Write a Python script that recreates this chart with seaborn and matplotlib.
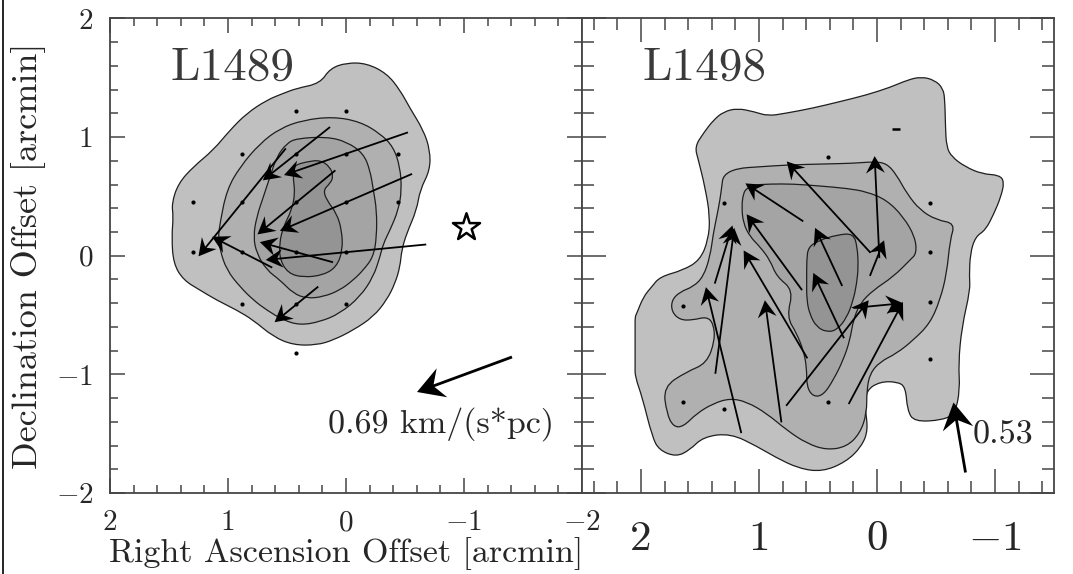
import numpy as np
import matplotlib
matplotlib.use("Agg")
import matplotlib.pyplot as plt
from matplotlib.path import Path
from matplotlib.patches import PathPatch
from matplotlib.ticker import FixedLocator, MultipleLocator, FixedFormatter
from matplotlib.lines import Line2D
import seaborn as sns

# ---------------- L1489 ----------------
l1489_dot_x = [0.42, 0.0, 0.88, 0.42, 0.0, -0.44, 1.30, 0.88, 0.42, 0.0, -0.44,
               1.30, 0.88, 0.42, 0.0, 0.88, 0.42, 0.0, 0.42]
l1489_dot_y = [1.22, 1.22, 0.86, 0.86, 0.86, 0.86, 0.45, 0.45, 0.45, 0.45, 0.45,
               0.03, 0.03, 0.03, 0.03, -0.41, -0.41, -0.41, -0.82]

l1489_arrow_x = [0.0, 0.42, 0.88, 0.0, 0.42, 0.0, 0.42, 0.88, 0.42]
l1489_arrow_y = [0.86, 0.86, 0.45, 0.45, 0.45, 0.03, 0.03, 0.03, -0.41]
l1489_arrow_u = [1.05, 0.57, 0.74, 1.12, 0.66, 1.36, 0.62, 0.51, 0.37]
l1489_arrow_v = [-0.36, -0.45, -0.91, -0.48, -0.54, -0.13, 0.17, 0.26, -0.30]

l1489_star = (-1.02, 0.245)
l1489_key = dict(x=-1.0, y=-1.0, u=0.805, v=-0.295, label="0.69 km/(s*pc)")

l1489_level1 = [(0.418, 1.411), (0.220, 1.453), (0.135, 1.579), (-0.006, 1.627),
                (-0.175, 1.622), (-0.345, 1.537), (-0.458, 1.397), (-0.543, 1.242),
                (-0.656, 1.059), (-0.712, 0.891), (-0.712, 0.722), (-0.627, 0.554),
                (-0.599, 0.385), (-0.514, 0.188), (-0.472, 0.048), (-0.458, -0.093),
                (-0.416, -0.233), (-0.345, -0.374), (-0.232, -0.514), (-0.062, -0.627),
                (0.107, -0.711), (0.248, -0.753), (0.446, -0.753), (0.616, -0.683),
                (0.785, -0.543), (0.926, -0.458), (1.096, -0.374), (1.237, -0.290),
                (1.378, -0.205), (1.463, -0.065), (1.477, 0.160), (1.463, 0.329),
                (1.477, 0.441), (1.421, 0.610), (1.294, 0.750), (1.124, 0.891),
                (0.983, 1.059), (0.842, 1.200), (0.672, 1.312), (0.531, 1.369)]
l1489_level2 = [(1.068, 0.273), (1.011, 0.554), (0.898, 0.750), (0.729, 0.947),
                (0.559, 1.074), (0.361, 1.144), (0.107, 1.172), (-0.119, 1.130),
                (-0.288, 1.031), (-0.401, 0.919), (-0.458, 0.750), (-0.472, 0.554),
                (-0.444, 0.385), (-0.373, 0.216), (-0.317, 0.104), (-0.288, -0.009),
                (-0.232, -0.177), (-0.119, -0.346), (0.051, -0.486), (0.220, -0.557),
                (0.390, -0.585), (0.531, -0.543), (0.672, -0.458), (0.785, -0.374),
                (0.898, -0.262), (1.011, -0.121), (1.068, 0.048), (1.082, 0.160)]
l1489_level3 = [(0.418, 0.989), (0.164, 1.003), (-0.006, 0.961), (-0.147, 0.863),
                (-0.204, 0.722), (-0.232, 0.554), (-0.260, 0.385), (-0.260, 0.160),
                (-0.232, -0.009), (-0.147, -0.121), (-0.062, -0.205), (0.051, -0.290),
                (0.192, -0.346), (0.333, -0.360), (0.446, -0.318), (0.559, -0.205),
                (0.672, -0.121), (0.757, 0.020), (0.785, 0.160), (0.757, 0.329),
                (0.700, 0.497), (0.644, 0.666), (0.587, 0.835), (0.503, 0.947)]
l1489_level4 = [(0.432, 0.764), (0.333, 0.792), (0.220, 0.807), (0.135, 0.750),
                (0.107, 0.666), (0.135, 0.610), (0.192, 0.554), (0.164, 0.469),
                (0.079, 0.357), (0.036, 0.216), (0.028, 0.048), (0.079, -0.093),
                (0.192, -0.163), (0.361, -0.183), (0.488, -0.149), (0.559, -0.037),
                (0.565, 0.104), (0.531, 0.244), (0.460, 0.385), (0.432, 0.525),
                (0.446, 0.638), (0.446, 0.722)]

# ---------------- L1498 ----------------
l1498_dot_x = [0.418, 1.294, -0.449, -0.449, -0.449, 1.647, 1.647, 1.294, 0.418, -0.449]
l1498_dot_y = [0.832, 0.447, 0.447, 0.03, -0.39, -0.42, -1.236, -1.29, -1.236, -0.87]
l1498_dash = (-0.161, 1.068)

l1498_arrow_x = [0.41, 0.0, 0.0, 0.87, 0.87, 0.41, 1.30, 1.29, 1.30, 0.86, 0.88, 0.41, 0.42, 0.01, -0.01]
l1498_arrow_y = [0.41, 0.41, -0.02, 0.45, 0.03, -0.01, 0.01, -0.38, -0.88, -0.41, -0.89, -0.42, -0.82, -0.82, -0.42]
l1498_arrow_u = [0.71, 0.04, -0.12, 0.49, 0.47, 0.23, -0.15, -0.16, 0.30, 0.54, 0.14, 0.26, -0.70, -0.46, -0.42]
l1498_arrow_v = [0.77, 0.86, 0.30, 0.32, 0.64, 0.49, 0.49, 1.23, 1.23, 0.91, 1.03, 0.55, 0.89, 0.86, 0.04]

l1498_key = dict(x=-0.695, y=-1.526, u=0.102, v=0.59, label="0.53")

l1498_level1 = [(1.544, 0.919), (1.472, 1.032), (1.386, 1.144), (1.30, 1.214), (1.184, 1.243),
                (1.04, 1.214), (0.925, 1.178), (0.78, 1.2), (0.55, 1.243), (0.32, 1.298),
                (0.089, 1.355), (-0.113, 1.42), (-0.257, 1.481), (-0.373, 1.509), (-0.488, 1.481),
                (-0.56, 1.411), (-0.575, 1.313), (-0.58, 1.088), (-0.589, 0.919), (-0.632, 0.835),
                (-0.747, 0.75), (-0.892, 0.689), (-1.036, 0.68), (-1.079, 0.624), (-1.05, 0.497),
                (-0.992, 0.357), (-0.92, 0.217), (-0.834, 0.16), (-0.79, 0.02), (-0.782, -0.177),
                (-0.79, -0.289), (-0.719, -0.599), (-0.69, -0.907), (-0.703, -1.132), (-0.661, -1.33),
                (-0.559, -1.385), (-0.314, -1.40), (-0.257, -1.30), (-0.242, -1.105), (-0.17, -1.062),
                (-0.026, -1.062), (0.089, -1.132), (0.103, -1.273), (0.075, -1.47), (0.132, -1.61),
                (0.262, -1.737), (0.463, -1.821), (0.665, -1.793), (0.867, -1.695), (1.011, -1.61),
                (1.242, -1.497), (1.472, -1.526), (1.587, -1.638), (1.703, -1.695), (1.847, -1.638),
                (1.905, -1.526), (1.99, -1.19), (2.05, -1.02), (2.05, -0.93), (2.05, -0.77),
                (2.05, -0.60), (2.05, -0.514), (2.036, -0.486), (1.98, -0.346), (1.909, -0.261),
                (1.839, -0.177), (1.641, -0.121), (1.5, -0.036), (1.43, 0.132), (1.415, 0.329),
                (1.458, 0.582), (1.514, 0.807)]
l1498_level2 = [(1.303, 0.680), (1.189, 0.737), (0.992, 0.750), (0.765, 0.765), (0.483, 0.773),
                (0.201, 0.779), (0.031, 0.793), (-0.082, 0.779), (-0.167, 0.680), (-0.252, 0.526),
                (-0.364, 0.385), (-0.506, 0.301), (-0.661, 0.273), (-0.619, 0.132), (-0.591, -0.148),
                (-0.534, -0.374), (-0.449, -0.570), (-0.308, -0.711), (-0.167, -0.823), (-0.025, -0.894),
                (0.059, -0.992), (0.087, -1.132), (0.087, -1.329), (0.144, -1.497), (0.257, -1.610),
                (0.426, -1.638), (0.596, -1.582), (0.765, -1.470), (0.935, -1.329), (1.104, -1.231),
                (1.246, -1.202), (1.387, -1.245), (1.528, -1.329), (1.642, -1.442), (1.726, -1.442),
                (1.782, -1.329), (1.811, -1.105), (1.613, -0.978), (1.443, -0.907), (1.373, -0.711),
                (1.387, -0.570), (1.443, -0.514), (1.559, -0.542), (1.669, -0.542), (1.740, -0.472),
                (1.740, -0.374), (1.669, -0.304), (1.557, -0.261), (1.472, -0.177), (1.415, -0.008),
                (1.387, 0.189), (1.358, 0.329), (1.331, 0.470), (1.316, 0.582)]
l1498_level3 = [(1.104, 0.568), (1.048, 0.596), (0.907, 0.605), (0.709, 0.605), (0.483, 0.588),
                (0.257, 0.568), (0.087, 0.540), (-0.082, 0.470), (-0.223, 0.329), (-0.322, 0.160),
                (-0.336, 0.020), (-0.280, -0.036), (-0.138, -0.177), (0.031, -0.289), (0.144, -0.401),
                (0.201, -0.542), (0.229, -0.711), (0.286, -0.879), (0.370, -1.048), (0.455, -1.175),
                (0.540, -1.189), (0.596, -1.105), (0.596, -0.936), (0.625, -0.795), (0.681, -0.654),
                (0.765, -0.514), (0.709, -0.289), (0.850, -0.177), (0.907, -0.036), (0.992, 0.076),
                (1.076, 0.160), (1.133, 0.273), (1.147, 0.413), (1.133, 0.526)]
l1498_level4 = [(0.582, 0.076), (0.483, 0.132), (0.342, 0.175), (0.201, 0.189), (0.167, 0.076),
                (0.158, -0.093), (0.172, -0.233), (0.201, -0.374), (0.257, -0.525), (0.342, -0.627),
                (0.426, -0.643), (0.511, -0.601), (0.568, -0.500), (0.596, -0.374), (0.596, -0.205),
                (0.596, -0.036)]

left_ticks = [2, 1, 0, -1, -2]
left_tick_labels = ["2", "1", "0", r"$-1$", r"$-2$"]
right_ticks = [2, 1, 0, -1]
right_tick_labels = ["2", "1", "0", r"$-1$"]

FILLS = ["#c0c0c0", "#b0b0b0", "#a4a4a4", "#949494"]
SPINE = "#454545"
TEXT = "#262626"

sns.set_theme(style="ticks")
plt.rcParams["font.family"] = ["cmr10", "DejaVu Serif"]
plt.rcParams["mathtext.fontset"] = "cm"
plt.rcParams["axes.formatter.use_mathtext"] = True
plt.rcParams["text.color"] = TEXT
plt.rcParams["xtick.labelcolor"] = TEXT
plt.rcParams["ytick.labelcolor"] = TEXT
plt.rcParams["axes.labelcolor"] = TEXT


def smooth_outline(pts):
    """Closed quadratic B-spline outline through the given contour vertices."""
    pts = np.asarray(pts, float)
    mids = (pts + np.roll(pts, -1, axis=0)) / 2.0
    verts = [mids[-1]]
    codes = [Path.MOVETO]
    for p, m in zip(pts, mids):
        verts += [p, m]
        codes += [Path.CURVE3, Path.CURVE3]
    verts.append(mids[-1])
    codes.append(Path.CLOSEPOLY)
    return Path(verts, codes)


def draw_levels(ax, levels):
    for z, (pts, col) in enumerate(zip(levels, FILLS)):
        ax.add_patch(PathPatch(smooth_outline(pts), facecolor=col, edgecolor="#1e1e1e",
                               linewidth=0.9, zorder=1 + z * 0.1))


def style_axes(ax, major_len, minor_len, labelsize, pad):
    ax.tick_params(which="both", direction="in", top=True, right=True,
                   color=SPINE, width=1.1, labelsize=labelsize, pad=pad)
    ax.tick_params(which="major", length=major_len)
    ax.tick_params(which="minor", length=minor_len)
    for s in ax.spines.values():
        s.set_color(SPINE)
        s.set_linewidth(1.3)
    ax.xaxis.set_minor_locator(MultipleLocator(0.2))
    ax.yaxis.set_minor_locator(MultipleLocator(0.2))


def arrows(ax, x, y, u, v, width=1.8, hw=10.5, hl=9.5, hal=6.5):
    ax.quiver(x, y, u, v, angles="xy", scale_units="xy", scale=1, pivot="middle",
              units="dots", width=width, headwidth=hw, headlength=hl,
              headaxislength=hal, color="black", zorder=6)


fig = plt.figure(figsize=(10.73, 5.74), dpi=100)
axL = fig.add_axes([0.1025, 0.1411, 0.4399, 0.8267])
axR = fig.add_axes([0.5424, 0.1411, 0.4399, 0.8267])

# ---- left panel: L1489 ----
axL.set_xlim(2, -2)
axL.set_ylim(-2, 2)
draw_levels(axL, [l1489_level1, l1489_level2, l1489_level3, l1489_level4])
sns.scatterplot(x=l1489_dot_x, y=l1489_dot_y, s=9, color="black", linewidth=0,
                legend=False, ax=axL, zorder=5)
arrows(axL, l1489_arrow_x, l1489_arrow_y, l1489_arrow_u, l1489_arrow_v)
sns.scatterplot(x=[l1489_star[0]], y=[l1489_star[1]], marker="*", s=420, color="white",
                edgecolor="black", linewidth=1.8, legend=False, ax=axL, zorder=7)
arrows(axL, [l1489_key["x"]], [l1489_key["y"]], [l1489_key["u"]], [l1489_key["v"]],
       width=2.8, hw=11, hl=9.5, hal=6.5)
axL.text(-0.805, -1.487, l1489_key["label"], fontsize=24.5, ha="center", va="baseline")
axL.text(1.49, 1.48, "L1489", fontsize=34, ha="left", va="baseline", color="#3a3a3a")

axL.xaxis.set_major_locator(FixedLocator(left_ticks))
axL.xaxis.set_major_formatter(FixedFormatter(left_tick_labels))
axL.yaxis.set_major_locator(FixedLocator(left_ticks))
axL.yaxis.set_major_formatter(FixedFormatter(left_tick_labels))
style_axes(axL, 11, 5.8, 21, 12)
axL.set_xlabel("Right Ascension Offset [arcmin]", fontsize=24.5)
axL.xaxis.label.set_verticalalignment("baseline")
axL.xaxis.set_label_coords(0.5, -0.1455)
axL.set_ylabel("Declination Offset [arcmin]", fontsize=26)
axL.yaxis.set_label_coords(-0.135, 0.5)

# ---- right panel: L1498 ----
axR.set_xlim(2.5, -1.5)
axR.set_ylim(-2, 2)
draw_levels(axR, [l1498_level1, l1498_level2, l1498_level3, l1498_level4])
sns.scatterplot(x=l1498_dot_x, y=l1498_dot_y, s=9, color="black", linewidth=0,
                legend=False, ax=axR, zorder=5)
sns.scatterplot(x=[l1498_dash[0]], y=[l1498_dash[1]], marker="_", s=40, color="black",
                linewidth=1.8, legend=False, ax=axR, zorder=5)
arrows(axR, l1498_arrow_x, l1498_arrow_y, l1498_arrow_u, l1498_arrow_v)
arrows(axR, [l1498_key["x"]], [l1498_key["y"]], [l1498_key["u"]], [l1498_key["v"]],
       width=2.8, hw=11, hl=9.5, hal=6.5)
axR.text(-0.814, -1.579, l1498_key["label"], fontsize=24.5, ha="left", va="baseline")
axR.text(1.99, 1.48, "L1498", fontsize=34, ha="left", va="baseline", color="#3a3a3a")

axR.xaxis.set_major_locator(FixedLocator(right_ticks))
axR.xaxis.set_major_formatter(FixedFormatter(right_tick_labels))
axR.yaxis.set_major_locator(FixedLocator(left_ticks))
axR.yaxis.set_major_formatter(FixedFormatter([""] * 5))
style_axes(axR, 17, 8.6, 31, 20)
axR.tick_params(axis="y", labelleft=False)

# thin frame line along the left edge
fig.add_artist(Line2D([0.0026, 0.0026], [0, 1], transform=fig.transFigure,
                      color="black", linewidth=1.2))

fig.savefig("out.png", dpi=100)
